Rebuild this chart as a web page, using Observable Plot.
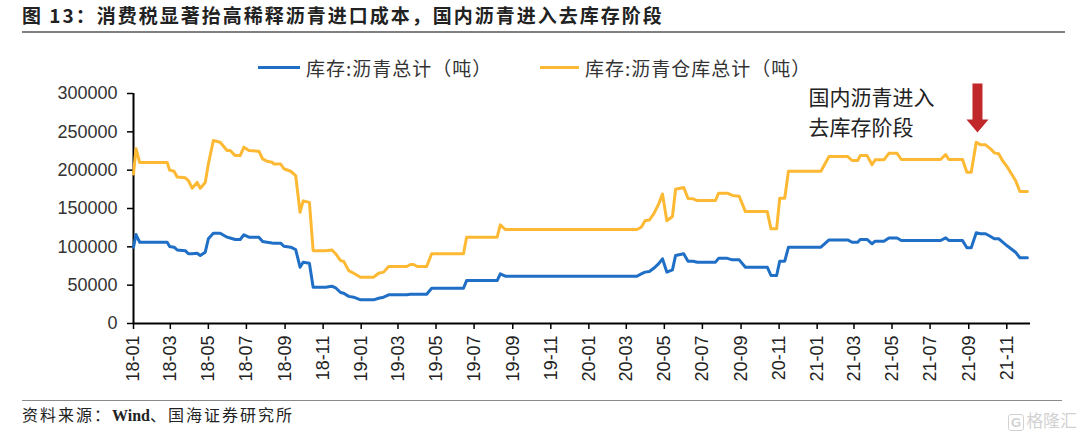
<!DOCTYPE html>
<html><head><meta charset="utf-8">
<script src="https://cdn.jsdelivr.net/npm/d3@7"></script>
<script src="https://cdn.jsdelivr.net/npm/@observablehq/plot@0.6"></script>
<style>
body{margin:0;background:#fff;}
#wrap{position:relative;width:1080px;height:434px;overflow:hidden;font-family:"Noto Sans CJK SC",sans-serif;background:#fff;}
#title{position:absolute;left:22px;top:4px;font-size:19px;line-height:22px;font-weight:bold;letter-spacing:2px;color:#222;white-space:nowrap;}
#rule1{position:absolute;left:22px;top:31px;width:1043px;height:2px;background:#808080;}
.sw{position:absolute;top:66px;height:3px;}
.lt{position:absolute;top:57px;font-size:19px;line-height:22px;color:#333;letter-spacing:1px;white-space:nowrap;}
#chart{position:absolute;left:0;top:80px;}
#rule2{position:absolute;left:22px;top:400px;width:1040px;height:1px;background:#8a8a8a;}
#source{position:absolute;left:22px;top:404px;font-size:16px;line-height:20px;letter-spacing:2px;color:#222;white-space:nowrap;}
#source b{font-family:"Liberation Serif",serif;letter-spacing:0;}
#wm{position:absolute;left:1008px;top:410px;font-size:17px;line-height:20px;color:#d2d2d2;white-space:nowrap;}
#wm span{display:inline-block;border:1.5px solid #d2d2d2;border-radius:3px;font-size:13px;line-height:15px;padding:0 2px;margin-right:2px;font-family:"Liberation Sans",sans-serif;font-weight:bold;}
</style></head>
<body>
<div id="wrap">
  <div id="title">图 13：消费税显著抬高稀释沥青进口成本，国内沥青进入去库存阶段</div>
  <div id="rule1"></div>
  <div id="legend"></div>
  <div id="chart"></div>
  <div id="rule2"></div>
  <div id="source">资料来源：<b>Wind</b>、国海证券研究所</div>
  <div id="wm"><span>G</span>格隆汇</div>
</div>
<script>
const seriesNames = ["库存:沥青总计（吨）", "库存:沥青仓库总计（吨）"];
const seriesColors = ["#1f6fc6", "#fdb933"];
const dates = [
"2018-01-01","2018-01-05","2018-01-11","2018-02-24","2018-02-28","2018-03-07","2018-03-12","2018-03-25","2018-03-30","2018-04-05",
"2018-04-13","2018-04-18","2018-04-26","2018-05-01","2018-05-09","2018-05-20","2018-05-31","2018-06-05","2018-06-13","2018-06-21",
"2018-06-27","2018-07-05","2018-07-21","2018-07-27","2018-08-03","2018-08-11","2018-08-14","2018-08-25","2018-08-30","2018-09-10",
"2018-09-18","2018-09-25","2018-09-30","2018-10-10","2018-10-16","2018-11-05","2018-11-15","2018-11-21","2018-11-29","2018-12-04",
"2018-12-12","2018-12-20","2018-12-31","2019-01-21","2019-01-29","2019-02-06","2019-02-14","2019-03-15","2019-03-21","2019-03-26",
"2019-04-01","2019-04-16","2019-04-24","2019-06-14","2019-06-19","2019-08-07","2019-08-12","2019-08-20","2020-03-18","2020-03-25",
"2020-03-31","2020-04-07","2020-04-14","2020-04-22","2020-04-28","2020-05-05","2020-05-14","2020-05-19","2020-06-01","2020-06-08",
"2020-06-16","2020-06-23","2020-07-22","2020-07-27","2020-08-10","2020-08-18","2020-08-29","2020-09-08","2020-10-13","2020-10-19",
"2020-10-28","2020-11-02","2020-11-10","2020-11-16","2021-01-07","2021-01-20","2021-02-19","2021-02-26","2021-03-07","2021-03-11",
"2021-03-22","2021-03-30","2021-04-04","2021-04-18","2021-04-26","2021-05-09","2021-05-16","2021-07-18","2021-07-26","2021-07-31",
"2021-08-22","2021-08-29","2021-09-05","2021-09-13","2021-09-20","2021-09-28","2021-10-06","2021-10-12","2021-10-19","2021-10-25",
"2021-11-02","2021-11-15","2021-11-22","2021-12-04"];
const totalValues = [
99500,116000,106000,106000,100500,99500,96000,95000,91000,91000,
91700,88700,93000,110500,117800,117800,112600,111500,109600,109600,
115700,112600,112600,107000,106000,105000,104800,104800,100800,99500,
96500,73400,80000,78700,47300,47300,48700,46600,40400,39500,
35400,34300,30900,30900,33000,34300,37400,37400,38200,38200,
38200,38200,46000,46000,56000,56000,64800,61700,61700,64800,
67000,67800,72000,78000,84400,67000,70000,88700,90900,81300,
81300,80000,80000,85000,85000,83000,83000,73400,73400,62600,
62600,81300,81300,99500,99500,109000,109000,106000,106000,109600,
109600,104000,107400,107400,111500,111500,108300,108300,111700,108300,
108300,98700,98700,118300,117000,117000,113500,110500,110500,106500,
101000,93000,85700,85700];
const warehouseValues = [
195000,228000,210000,210000,200000,198500,191000,190000,186500,176500,
184000,176500,184000,208000,238700,236500,225600,225600,219000,219000,
230000,225600,224700,214800,211700,210400,208000,208000,201800,198600,
193000,145000,160000,158000,95000,95000,96000,91000,82000,81000,
69000,65600,60400,60400,65600,67000,74400,74400,77000,77000,
74400,74400,91000,91000,112600,112600,128700,122600,122600,125600,
134000,135000,143000,156000,169000,134000,139600,175000,177500,163000,
162600,160400,160400,170000,170000,167000,166000,146000,146000,123500,
123500,163400,163400,198700,198700,217800,217800,212600,212600,219000,
219000,207000,213500,213500,222000,222000,213900,213900,220400,213900,
213900,197400,197400,236500,233000,233000,227800,222600,221300,212600,
203900,186500,172200,172200];
const yTicks = [0, 50000, 100000, 150000, 200000, 250000, 300000];
const xTickLabels = ["18-01","18-03","18-05","18-07","18-09","18-11","19-01","19-03","19-05","19-07","19-09","19-11",
"20-01","20-03","20-05","20-07","20-09","20-11","21-01","21-03","21-05","21-07","21-09","21-11"];
const annotationText = "国内沥青进入\n去库存阶段";
const annotationPos = {date: "2020-12-18", value: 277800};
const arrowPos = {date: "2021-09-15", value: 249000};

const parse = d3.utcParse("%Y-%m-%d");
const rows = dates.map((d, i) => ({date: parse(d), total: totalValues[i], warehouse: warehouseValues[i]}));
const xTicks = xTickLabels.map(s => parse("20" + s + "-01"));
const xDomain = [parse("2018-01-01"), parse("2021-12-09")];

// legend
const legend = document.getElementById("legend");
[[258, 42, 306], [540, 39, 585]].forEach(([sx, sw, tx], i) => {
  const s = document.createElement("div"); s.className = "sw";
  s.style.left = sx + "px"; s.style.width = sw + "px"; s.style.background = seriesColors[i];
  const t = document.createElement("div"); t.className = "lt"; t.style.left = tx + "px"; t.textContent = seriesNames[i];
  legend.appendChild(s); legend.appendChild(t);
});

const blockArrow = {
  draw(context, l) {
    const h = 13, hw = 11, sw = 5;
    context.moveTo(-sw, 0);
    context.lineTo(-sw, -(l - h));
    context.lineTo(-hw, -(l - h));
    context.lineTo(0, -l);
    context.lineTo(hw, -(l - h));
    context.lineTo(sw, -(l - h));
    context.lineTo(sw, 0);
    context.closePath();
  }
};

const chart = Plot.plot({
  width: 1080, height: 320,
  marginTop: 13, marginBottom: 77, marginLeft: 133, marginRight: 50,
  style: {fontFamily: '"Liberation Sans", Arial, sans-serif', fontSize: "18px", color: "#222", background: "transparent", overflow: "visible"},
  x: {type: "utc", domain: xDomain},
  y: {domain: [0, 300000]},
  marks: [
    Plot.axisY({ticks: yTicks, tickFormat: d3.format("d"), tickSize: 6, tickPadding: 10, stroke: "#000", strokeWidth: 1.5, fill: "#333", label: null}),
    Plot.axisX({ticks: xTicks, tickFormat: d3.utcFormat("%y-%m"), tickRotate: -90, tickSize: 6, tickPadding: 6, stroke: "#000", strokeWidth: 1.5, fill: "#222", label: null}),
    Plot.ruleX([xDomain[0]], {stroke: "#000", strokeWidth: 2}),
    Plot.ruleY([0], {stroke: "#000", strokeWidth: 2}),
    Plot.lineY(rows, {x: "date", y: "warehouse", stroke: seriesColors[1], strokeWidth: 3}),
    Plot.lineY(rows, {x: "date", y: "total", stroke: seriesColors[0], strokeWidth: 3}),
    Plot.text([annotationPos], {x: d => parse(d.date), y: "value", text: () => annotationText, textAnchor: "start", lineAnchor: "middle", lineHeight: 1.45, fontSize: 21, fill: "#222", fontFamily: '"Noto Sans CJK SC", sans-serif'}),
    Plot.vector([arrowPos], {x: d => parse(d.date), y: "value", length: 49, rotate: 180, anchor: "end", shape: blockArrow, fill: "#c0282a", stroke: "none"})
  ]
});
document.getElementById("chart").appendChild(chart);
</script>
</body></html>
